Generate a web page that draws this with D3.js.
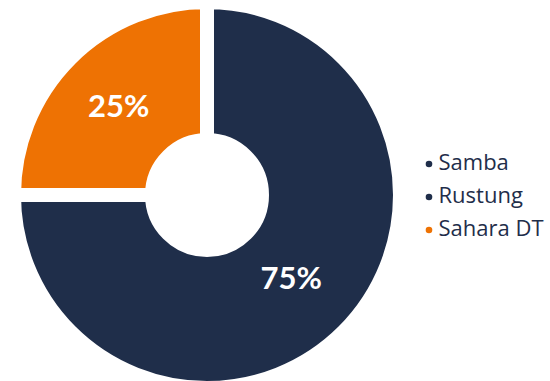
<!DOCTYPE html>
<html>
<head>
<meta charset="utf-8">
<script src="https://cdn.jsdelivr.net/npm/d3@7"></script>
<style>
  html, body { margin: 0; padding: 0; background: #ffffff; }
  svg { display: block; }
</style>
</head>
<body>
<svg id="chart" width="550" height="381"></svg>
<script>
// Share of each product line
const categories = ["Samba", "Rustung", "Sahara DT"];
const values = [75, 0, 25];
const colors = ["#1f2e4a", "#1f2e4a", "#ee7203"];

const width = 550, height = 381;
const cx = 207, cy = 195;
const outerR = 186, innerR = 62;
const gap = 14;

const svg = d3.select("#chart");

const data = categories.map((c, i) => ({ name: c, value: values[i], color: colors[i] }));
const total = d3.sum(data, d => d.value);

const pie = d3.pie()
  .sort(null)
  .value(d => d.value);

// slices are separated by a white outline, so the ring is drawn half a gap wider each way
const arc = d3.arc()
  .innerRadius(innerR - gap / 2)
  .outerRadius(outerR + gap / 2);

const labelArc = d3.arc()
  .innerRadius(122)
  .outerRadius(122);

const slices = pie(data.filter(d => d.value > 0));

const g = svg.append("g").attr("transform", `translate(${cx},${cy})`);

g.selectAll("path.slice")
  .data(slices)
  .join("path")
  .attr("class", "slice")
  .attr("d", arc)
  .attr("fill", d => d.data.color)
  .attr("stroke", "#ffffff")
  .attr("stroke-width", gap)
  .attr("stroke-linejoin", "miter");

g.selectAll("text.pct")
  .data(slices)
  .join("text")
  .attr("class", "pct")
  .attr("transform", d => {
    const [x, y] = labelArc.centroid(d);
    return `translate(${x - 2},${y - 4})`;
  })
  .attr("text-anchor", "middle")
  .attr("dominant-baseline", "central")
  .attr("font-family", "Lato, sans-serif")
  .attr("font-weight", 700)
  .attr("font-size", 31)
  .attr("fill", "#ffffff")
  .text(d => d3.format(".0%")(d.data.value / total));

// Legend
const legend = svg.append("g").attr("transform", "translate(429,169.5)");
const rowH = 33;

const rows = legend.selectAll("g.row")
  .data(data)
  .join("g")
  .attr("class", "row")
  .attr("transform", (d, i) => `translate(0,${i * rowH})`);

rows.append("circle")
  .attr("cx", 0)
  .attr("cy", -5.5)
  .attr("r", 3.3)
  .attr("fill", d => d.color);

rows.append("text")
  .attr("x", 9.5)
  .attr("y", 0)
  .attr("font-family", "'Open Sans', sans-serif")
  .attr("font-size", 22)
  .attr("fill", "#1f2e4a")
  .text(d => d.name);
</script>
</body>
</html>
